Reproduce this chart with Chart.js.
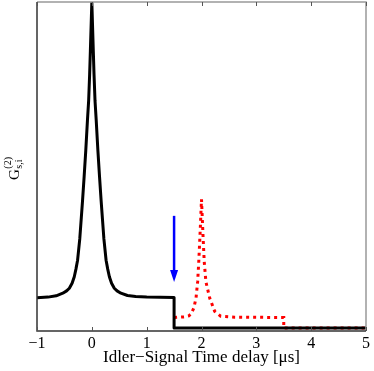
<!DOCTYPE html>
<html>
<head>
    <title>G2 Idler-Signal</title>
    <script src="https://cdn.jsdelivr.net/npm/chart.js"></script>
    <style>
        body { margin: 0; padding: 0; background: white; }
        .wrap { width: 374px; height: 371px; }
    </style>
</head>
<body>
    <div class="wrap"><canvas id="g2Chart" width="374" height="371"></canvas></div>

    <script>
        // values (arbitrary units, 0..10)
        const blackX = [-1, -0.8, -0.65, -0.53, -0.46, -0.41, -0.36, -0.32, -0.29, -0.26, -0.22, -0.17, -0.14, -0.11, -0.08, -0.058, -0.04, -0.027, 0,
                        0.027, 0.04, 0.058, 0.08, 0.11, 0.14, 0.17, 0.22, 0.26, 0.29, 0.32, 0.36, 0.41, 0.46, 0.53, 0.65, 0.8, 1.0, 1.5, 1.5, 5];
        const blackY = [1.01, 1.03, 1.07, 1.15, 1.22, 1.3, 1.45, 1.65, 1.88, 2.15, 2.8, 3.95, 4.7, 5.5, 6.4, 7.0, 7.8, 8.5, 10,
                        8.5, 7.8, 7.0, 6.4, 5.5, 4.7, 3.95, 2.8, 2.15, 1.88, 1.65, 1.45, 1.3, 1.22, 1.15, 1.08, 1.05, 1.03, 1.02, 0.09, 0.09];
        const redX = [1.5, 1.69, 1.77, 1.81, 1.86, 1.9, 1.93, 1.95, 1.975, 2.0,
                      2.025, 2.05, 2.08, 2.15, 2.24, 2.35, 2.6, 3.5, 3.5, 5];
        const redY = [0.41, 0.43, 0.46, 0.52, 0.7, 1.0, 1.5, 2.1, 3.0, 4.0,
                      3.0, 2.1, 1.5, 1.0, 0.6, 0.45, 0.42, 0.41, 0.09, 0.09];
        const arrowX = 1.5;
        const arrowFrom = 3.5;
        const arrowTo = 1.49;
        const xTicks = [-1, 0, 1, 2, 3, 4, 5];

        const serif = "'Liberation Serif', 'DejaVu Serif', serif";

        function pts(xs, ys) {
            return xs.map((x, i) => ({ x: x, y: ys[i] }));
        }

        // frame, inside ticks, arrow and the y label
        const extras = {
            id: 'extras',
            afterDatasetsDraw(chart) {
                const ctx = chart.ctx;
                const a = chart.chartArea;
                const xs = chart.scales.x, ys = chart.scales.y;
                ctx.save();

                // arrow
                const ax = xs.getPixelForValue(arrowX);
                const y0 = ys.getPixelForValue(arrowFrom);
                const y1 = ys.getPixelForValue(arrowTo);
                ctx.strokeStyle = '#0000ff';
                ctx.fillStyle = '#0000ff';
                ctx.lineWidth = 2.5;
                ctx.beginPath();
                ctx.moveTo(ax, y0);
                ctx.lineTo(ax, y1 - 10);
                ctx.stroke();
                ctx.beginPath();
                ctx.moveTo(ax - 4, y1 - 12);
                ctx.lineTo(ax + 4, y1 - 12);
                ctx.lineTo(ax, y1);
                ctx.closePath();
                ctx.fill();

                // box
                ctx.lineWidth = 1.5;
                ctx.strokeStyle = '#999';
                ctx.beginPath();
                ctx.moveTo(a.left, a.top);
                ctx.lineTo(a.right, a.top);
                ctx.lineTo(a.right, a.bottom);
                ctx.stroke();
                ctx.strokeStyle = '#333';
                ctx.beginPath();
                ctx.moveTo(a.left, a.top);
                ctx.lineTo(a.left, a.bottom);
                ctx.lineTo(a.right, a.bottom);
                ctx.stroke();

                // ticks pointing inward
                ctx.lineWidth = 1;
                ctx.strokeStyle = '#555';
                xTicks.forEach(t => {
                    const px = Math.round(xs.getPixelForValue(t)) + 0.5;
                    ctx.beginPath();
                    ctx.moveTo(px, a.bottom);
                    ctx.lineTo(px, a.bottom - 4);
                    ctx.moveTo(px, a.top);
                    ctx.lineTo(px, a.top + 4);
                    ctx.stroke();
                });

                // y label G^(2)_s,i
                ctx.fillStyle = '#000';
                ctx.translate(19, 180);
                ctx.rotate(-Math.PI / 2);
                ctx.textBaseline = 'alphabetic';
                ctx.font = '15px ' + serif;
                ctx.fillText('G', 0, 0);
                const gw = ctx.measureText('G').width;
                ctx.font = '10px ' + serif;
                ctx.fillText('(2)', gw + 0.5, -8);
                ctx.fillText('s,i', gw + 0.5, 3);
                ctx.restore();
            }
        };

        new Chart(document.getElementById('g2Chart'), {
            type: 'line',
            data: {
                datasets: [
                    {
                        data: pts(blackX, blackY),
                        borderColor: '#000',
                        borderWidth: 3,
                        pointRadius: 0,
                        tension: 0,
                        borderJoinStyle: 'round'
                    },
                    {
                        data: pts(redX, redY),
                        borderColor: '#ff0000',
                        borderWidth: 3,
                        borderDash: [3, 4],
                        pointRadius: 0,
                        tension: 0
                    }
                ]
            },
            options: {
                responsive: false,
                animation: false,
                layout: { padding: { left: 37, right: 8, top: 2, bottom: 0 } },
                plugins: { legend: { display: false }, tooltip: { enabled: false } },
                scales: {
                    x: {
                        type: 'linear',
                        min: -1,
                        max: 5,
                        grid: { display: false, drawTicks: false },
                        border: { display: false },
                        afterBuildTicks: s => { s.ticks = xTicks.map(v => ({ value: v })); },
                        afterFit: s => { s.height = 40; },
                        ticks: {
                            padding: 3,
                            color: '#000',
                            font: { family: serif, size: 16 },
                            callback: v => String(v).replace('-', '\u2212')
                        },
                        title: {
                            display: true,
                            text: 'Idler\u2212Signal Time delay [\u03bcs]',
                            color: '#000',
                            font: { family: serif, size: 17 },
                            padding: { top: 0, bottom: 3 }
                        }
                    },
                    y: {
                        display: false,
                        min: 0,
                        max: 10
                    }
                }
            },
            plugins: [extras]
        });
    </script>
</body>
</html>
